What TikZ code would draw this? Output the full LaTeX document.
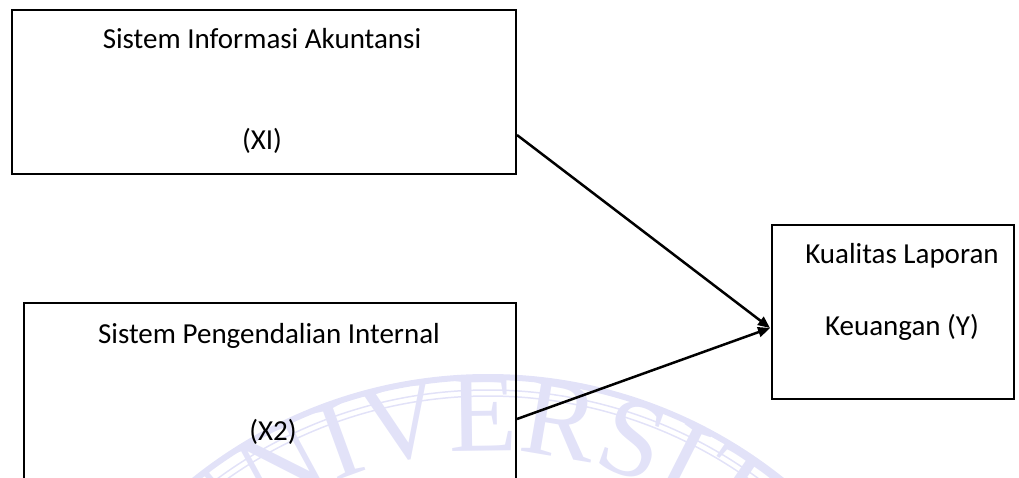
\documentclass[tikz,border=0pt]{standalone}
\usepackage{fontspec}
\setmainfont{Carlito}
\newfontfamily\wmserif{Liberation Serif}
\usetikzlibrary{arrows.meta,decorations.text,calc}
\definecolor{wmc}{RGB}{226,226,248}
\begin{document}
\begin{tikzpicture}[x=1pt,y=1pt,
  box/.style={draw=black, line width=2pt, inner sep=0pt},
  lbl/.style={font=\fontsize{29}{29}\selectfont, anchor=base, inner sep=0pt},
  link/.style={line width=2.5pt, -{Triangle[length=12pt,width=10pt]}}]
\useasboundingbox (0,0) rectangle (1019,477);
% faint watermark
\coordinate (wc) at (488,-370);
\draw[wmc, line width=6pt] (wc) circle (470);
\draw[wmc, line width=1.5pt] (wc) circle (457);
\draw[wmc, line width=1.5pt] (wc) circle (451);
\path[color=wmc, decorate, decoration={text along path, text align=center,
  text={|\wmserif\fontsize{112}{112}\selectfont\color{wmc}|UNIVERSITAS}}]
  (wc) ++(147:396) arc (147:19:396);
% boxes
\node[box, minimum width=504pt, minimum height=164pt] (b1) at (264,385) {};
\node[box, minimum width=492pt, minimum height=194pt] (b2) at (270,77) {};
\node[box, minimum width=242pt, minimum height=174pt] (b3) at (893,165) {};
% labels
\node[lbl] (t1) at (262,428) {Sistem Informasi Akuntansi};
\node[lbl] (t2) at (262,327) {(XI)};
\node[lbl] (t3) at (269,134) {Sistem Pengendalian Internal};
\node[lbl] (t4) at (273,37) {(X2)};
\node[lbl] (t5) at (902,214) {Kualitas Laporan};
\node[lbl] (t6) at (902,142) {Keuangan (Y)};
% connectors
\coordinate (s1) at ($(b1.south east)+(0,40)$);
\coordinate (s2) at ($(b2.north east)+(0,-117)$);
\coordinate (e3) at ($(b3.west)+(-1,-16)$);
\draw[link] (s1) -- (e3);
\draw[link] (s2) -- (e3);
\end{tikzpicture}
\end{document}
